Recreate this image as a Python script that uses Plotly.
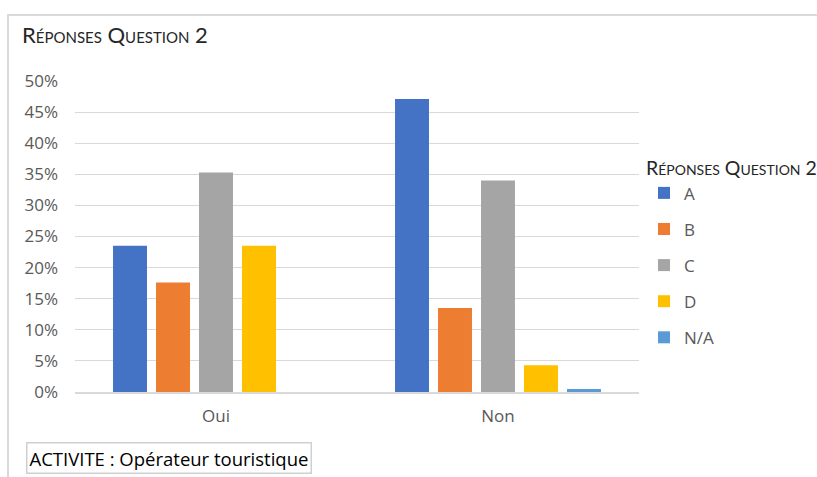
import plotly.graph_objects as go

categories = ["Oui", "Non"]
series_names = ["A", "B", "C", "D", "N/A"]
series_values = {
    "A": [0.235, 0.471],
    "B": [0.176, 0.135],
    "C": [0.353, 0.340],
    "D": [0.235, 0.043],
    "N/A": [0.0, 0.005],
}
series_colors = {
    "A": "#4472C4",
    "B": "#ED7D31",
    "C": "#A5A5A5",
    "D": "#FFC000",
    "N/A": "#5B9BD5",
}
y_tickvals = [0, 0.05, 0.10, 0.15, 0.20, 0.25, 0.30, 0.35, 0.40, 0.45, 0.50]
y_ticktext = ["0%", "5%", "10%", "15%", "20%", "25%", "30%", "35%", "40%", "45%", "50%"]

W, H = 817, 477
L, R, T, B = 75, 178, 81, 85
pw = W - L - R
ph = H - T - B

def px_x(x):
    return (x - L) / pw

def px_y(y):
    return (H - B - y) / ph

fig = go.Figure()
for name in series_names:
    fig.add_trace(go.Bar(
        name=name,
        x=categories,
        y=series_values[name],
        marker=dict(color=series_colors[name], line=dict(width=0)),
        legendgroup=name,
    ))

label_font = dict(family="Open Sans, Noto Sans, sans-serif", size=17, color="#595959")

fig.update_layout(
    width=W, height=H,
    margin=dict(l=L, r=R, t=T, b=B, autoexpand=False),
    paper_bgcolor="white",
    plot_bgcolor="white",
    barmode="group",
    bargap=0.2376,
    bargroupgap=0.21,
    title=dict(
        text="Réponses Question 2",
        font=dict(family="Lato, sans-serif", size=22, color="#262626", variant="small-caps"),
        x=22 / W, xref="container", xanchor="left",
        y=1 - 35 / H, yref="container", yanchor="middle",
    ),
    xaxis=dict(
        showgrid=False,
        showline=True, linecolor="#D9D9D9", linewidth=1.5,
        ticks="", tickfont=label_font,
        ticklabelstandoff=8,
        range=[-0.5, 1.5],
    ),
    yaxis=dict(
        range=[0, 0.5],
        tickvals=y_tickvals, ticktext=y_ticktext,
        showgrid=True, gridcolor="#D9D9D9", gridwidth=1,
        zeroline=False, showline=False,
        ticks="", tickfont=label_font,
        ticklabelstandoff=16,
    ),
    legend=dict(
        title=dict(text="Réponses Question 2",
                   font=dict(family="Lato, sans-serif", size=19.5, color="#262626", variant="small-caps")),
        font=label_font,
        x=px_x(644), xanchor="left",
        y=px_y(150), yanchor="top",
        traceorder="grouped",
        tracegroupgap=11,
        bgcolor="rgba(0,0,0,0)",
    ),
    showlegend=True,
)

fig.add_annotation(
    text="ACTIVITE : Opérateur touristique",
    xref="paper", yref="paper",
    x=px_x(26), y=px_y(458),
    xanchor="left", yanchor="middle",
    showarrow=False,
    font=dict(family="Open Sans, Noto Sans, sans-serif", size=18.5, color="#000000"),
    bordercolor="#D0D0D0", borderwidth=1.5, borderpad=2,
    bgcolor="white",
)

fig.add_shape(
    type="rect", xref="paper", yref="paper",
    x0=px_x(8), x1=px_x(840), y0=px_y(500), y1=px_y(15),
    line=dict(color="#D9D9D9", width=2),
    fillcolor="rgba(0,0,0,0)",
    layer="below",
)

fig.write_html("out.html", config={"displayModeBar": False},
               post_script="document.body.style.margin='0';")
